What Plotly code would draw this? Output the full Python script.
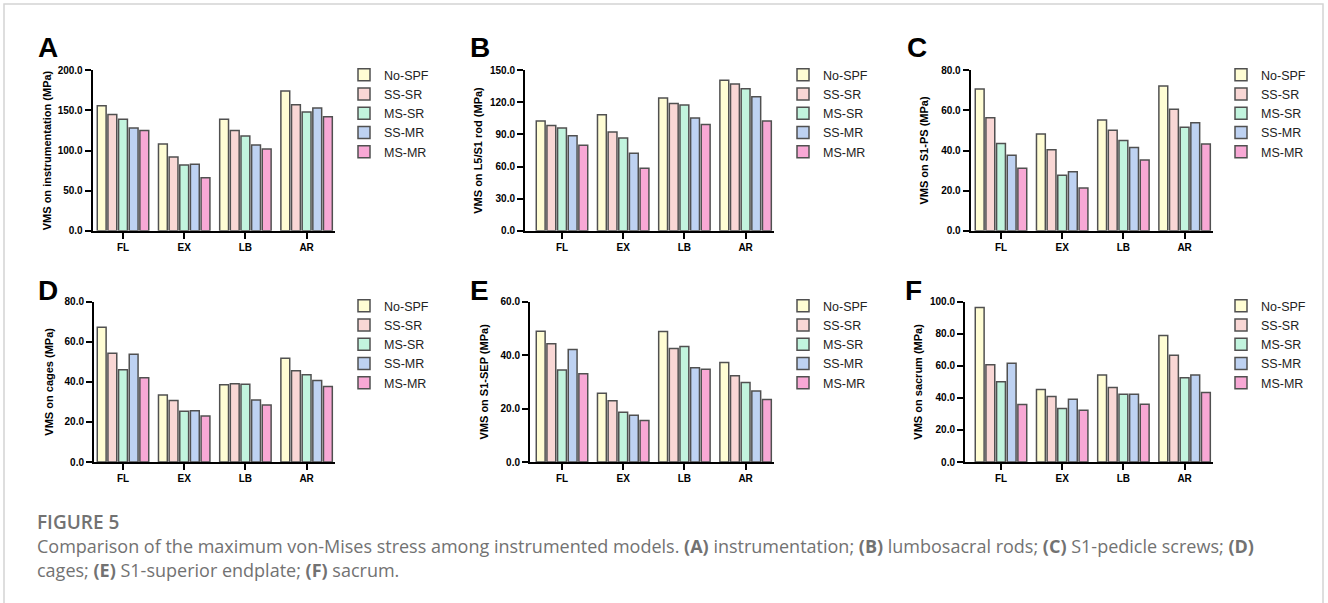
import plotly.graph_objects as go

W, H = 1328, 603

categories = ["FL", "EX", "LB", "AR"]
models = ["No-SPF", "SS-SR", "MS-SR", "SS-MR", "MS-MR"]
fill_colors = ["#FFFDD4", "#F9D7D5", "#C2F4DE", "#BED2F2", "#F8A8D5"]

# values per panel: one list per model (No-SPF, SS-SR, MS-SR, SS-MR, MS-MR), ordered FL, EX, LB, AR
vms_instrumentation = [
    [155.8, 108.0, 139.0, 174.2],
    [145.0, 92.0, 125.0, 157.0],
    [139.0, 82.0, 118.0, 148.0],
    [128.0, 83.0, 107.0, 153.0],
    [125.0, 66.0, 102.0, 142.0],
]
vms_l5s1_rod = [
    [102.5, 108.4, 124.0, 140.6],
    [98.4, 92.2, 119.0, 137.2],
    [96.0, 86.6, 117.5, 132.8],
    [88.8, 72.5, 105.3, 125.3],
    [80.0, 58.4, 99.4, 102.5],
]
vms_s1_ps = [
    [70.7, 48.2, 55.2, 72.2],
    [56.3, 40.4, 50.1, 60.6],
    [43.5, 27.6, 45.0, 51.6],
    [37.6, 29.4, 41.5, 53.9],
    [31.2, 21.3, 35.3, 43.3],
]
vms_cages = [
    [67.3, 33.4, 38.6, 51.8],
    [54.3, 30.7, 39.1, 45.5],
    [46.0, 25.3, 38.8, 43.6],
    [53.8, 25.6, 30.9, 40.7],
    [42.1, 23.0, 28.5, 37.7],
]
vms_s1_sep = [
    [48.9, 25.7, 48.8, 37.2],
    [44.3, 22.9, 42.5, 32.3],
    [34.4, 18.6, 43.2, 29.8],
    [42.1, 17.5, 35.3, 26.6],
    [33.0, 15.5, 34.7, 23.4],
]
vms_sacrum = [
    [96.4, 45.3, 54.2, 78.9],
    [60.6, 40.9, 46.5, 66.6],
    [50.0, 33.3, 42.2, 52.5],
    [61.6, 39.1, 42.2, 54.2],
    [35.8, 32.3, 36.1, 43.3],
]

panel_letters = ["A", "B", "C", "D", "E", "F"]
y_titles = [
    "VMS on instrumentation (MPa)",
    "VMS on L5/S1 rod (MPa)",
    "VMS on S1-PS (MPa)",
    "VMS on cages (MPa)",
    "VMS on S1-SEP (MPa)",
    "VMS on sacrum (MPa)",
]
y_max = [200, 150, 80, 80, 60, 100]
y_dtick = [50, 30, 20, 20, 20, 20]
panel_data = [vms_instrumentation, vms_l5s1_rod, vms_s1_ps, vms_cages, vms_s1_sep, vms_sacrum]

# layout geometry (pixels)
axis_left = [92.7, 525, 970.7, 94, 530, 965]
first_cat = [123, 562, 1001, 123, 562, 1001]
cat_step = 61.2
right_pad = 28.5
row_y = [(70.3, 230.7), (301.7, 462.0)]
title_standoff = [4, 5, 10, 9, 10, 5]
letter_x = [36, 468, 905, 36, 468, 903]
letter_y = [47.5, 47.5, 47.5, 290.5, 290.5, 290.5]
legend_x = [344, 783, 1221, 344, 783, 1221]
legend_y = [60, 60, 60, 291, 291, 291]

FONT = "Liberation Sans, Arial, sans-serif"
fig = go.Figure()
layout = dict(
    width=W, height=H,
    margin=dict(l=0, r=0, t=0, b=0, pad=0, autoexpand=False),
    paper_bgcolor="white", plot_bgcolor="white",
    barmode="group", bargap=0.13, bargroupgap=0.17,
    showlegend=True,
    font=dict(family=FONT, color="black"),
)

annotations = []
shapes = []
for p in range(6):
    n = p + 1
    xa = "x" if n == 1 else f"x{n}"
    ya = "y" if n == 1 else f"y{n}"
    lg = "legend" if n == 1 else f"legend{n}"
    vals = panel_data[p]
    for m in range(5):
        fig.add_trace(go.Bar(
            x=categories, y=vals[m], name=models[m],
            marker=dict(color=fill_colors[m], line=dict(color="#505050", width=1.5)),
            xaxis=xa, yaxis=ya, legend=lg, showlegend=True,
            hovertemplate="%{x}: %{y}<extra>" + models[m] + "</extra>",
        ))
    axL = axis_left[p]
    c0 = first_cat[p]
    c3 = c0 + 3 * cat_step
    axR = c3 + right_pad
    rng = [(axL - c0) / cat_step, 3 + (axR - c3) / cat_step]
    top_px, bot_px = row_y[0] if p < 3 else row_y[1]
    xkey = "xaxis" if n == 1 else f"xaxis{n}"
    ykey = "yaxis" if n == 1 else f"yaxis{n}"
    layout[xkey] = dict(
        domain=[axL / W, axR / W], range=rng, anchor=ya, automargin=False,
        showline=True, linecolor="black", linewidth=2,
        ticks="outside", ticklen=6, tickwidth=2, tickcolor="black",
        tickfont=dict(family=FONT, size=10, color="black", weight="bold"),
        showgrid=False, zeroline=False, fixedrange=True,
    )
    layout[ykey] = dict(
        domain=[1 - bot_px / H, 1 - top_px / H], range=[0, y_max[p]], anchor=xa,
        automargin=False,
        dtick=y_dtick[p], tick0=0, tickformat=".1f",
        showline=True, linecolor="black", linewidth=2,
        ticks="outside", ticklen=6, tickwidth=2, tickcolor="black",
        tickfont=dict(family=FONT, size=10, color="black", weight="bold"),
        title=dict(text=y_titles[p], standoff=title_standoff[p],
                   font=dict(family=FONT, size=11, color="black", weight="bold")),
        showgrid=False, zeroline=False, fixedrange=True,
    )
    layout[lg] = dict(
        x=legend_x[p] / W, y=1 - legend_y[p] / H, xanchor="left", yanchor="top",
        font=dict(family=FONT, size=12.5, color="#222222"),
        bgcolor="rgba(0,0,0,0)", borderwidth=0, tracegroupgap=0,
        itemwidth=30,
    )
    annotations.append(dict(
        text="<b>" + panel_letters[p] + "</b>", x=letter_x[p] / W, y=1 - letter_y[p] / H,
        xref="paper", yref="paper", xanchor="left", yanchor="middle", showarrow=False,
        font=dict(family=FONT, size=28, color="black"),
    ))

CAP_FONT = "Open Sans, Lato, sans-serif"
annotations.append(dict(
    text="FIGURE 5", x=35 / W, y=1 - 522 / H, xref="paper", yref="paper",
    xanchor="left", yanchor="middle", showarrow=False,
    font=dict(family=CAP_FONT, size=19, color="#727272", weight=600),
))
annotations.append(dict(
    text=("Comparison of the maximum von-Mises stress among instrumented models. "
          "<b>(A)</b> instrumentation; <b>(B)</b> lumbosacral rods; <b>(C)</b> S1-pedicle screws; <b>(D)</b>"),
    x=35 / W, y=1 - 546 / H, xref="paper", yref="paper",
    xanchor="left", yanchor="middle", showarrow=False,
    font=dict(family=CAP_FONT, size=18, color="#727272"),
))
annotations.append(dict(
    text="cages; <b>(E)</b> S1-superior endplate; <b>(F)</b> sacrum.",
    x=35 / W, y=1 - 570 / H, xref="paper", yref="paper",
    xanchor="left", yanchor="middle", showarrow=False,
    font=dict(family=CAP_FONT, size=18, color="#727272"),
))

shapes.append(dict(
    type="rect", xref="paper", yref="paper",
    x0=4 / W, x1=1323 / W, y0=-0.05, y1=1 - 4 / H,
    line=dict(color="#D4D4D4", width=1.5), fillcolor="rgba(0,0,0,0)", layer="below",
))

layout["annotations"] = annotations
layout["shapes"] = shapes
fig.update_layout(**layout)
fig.write_html("out.html")
